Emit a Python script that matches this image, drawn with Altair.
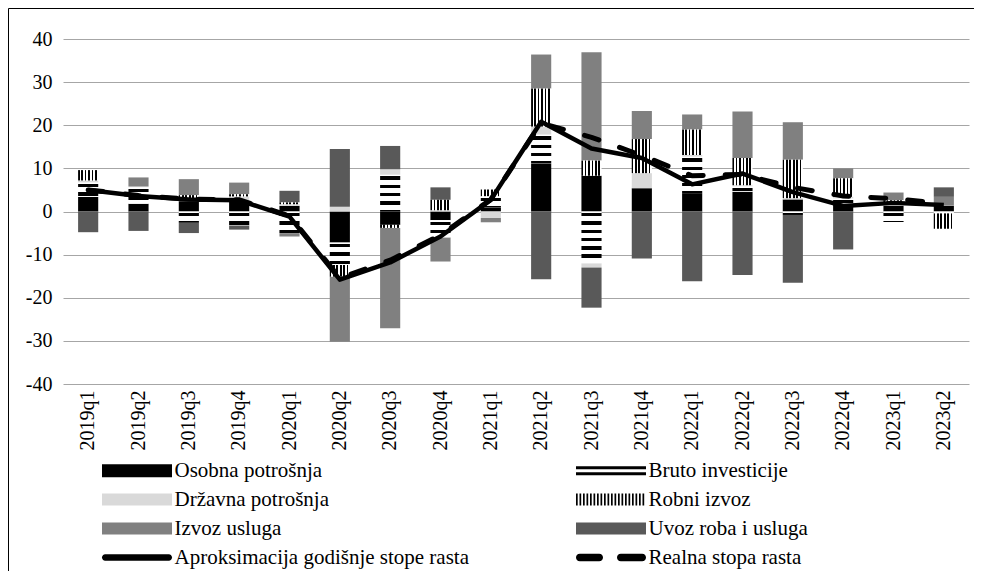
import altair as alt
import pandas as pd

# ---------------- data ----------------
quarters = ["2019q1", "2019q2", "2019q3", "2019q4", "2020q1", "2020q2", "2020q3", "2020q4",
            "2021q1", "2021q2", "2021q3", "2021q4", "2022q1", "2022q2", "2022q3", "2022q4",
            "2023q1", "2023q2"]

series_names = ["Osobna potrošnja", "Bruto investicije", "Državna potrošnja",
                "Robni izvoz", "Izvoz usluga", "Uvoz roba i usluga"]
line_names = ["Aproksimacija godišnje stope rasta", "Realna stopa rasta"]

osobna = [3.4, 1.8, 2.4, 2.3, 1.3, -7.2, -3.1, -2.0, 1.0, 11.2, 8.3, 5.4, 4.1, 4.6, 2.8, 1.8, 1.3, 1.4]
bruto = [3.3, 3.8, -2.6, -3.2, -5.0, -5.2, 8.5, -4.0, 2.5, 6.6, -12.0, 0.0, 8.6, 1.2, -0.8, 1.2, -2.5, -0.4]
drzavna = [0.5, 0.2, 0.5, 1.2, 0.4, 1.1, 1.3, 0.3, -1.5, 1.9, -1.0, 3.5, 0.4, 0.3, 0.3, 0.4, 0.4, 0.1]
robni = [2.4, 0.0, 0.9, 0.5, 0.4, -2.7, -0.7, 2.4, 1.6, 8.8, 3.5, 7.9, 5.9, 6.3, 8.9, 4.3, 0.9, -3.6]
izvoz = [0.0, 2.1, 3.7, 2.7, -0.8, -15.1, -23.3, -5.6, -1.0, 7.9, 25.1, 6.5, 3.5, 10.8, 8.7, 2.3, 1.8, 1.9]
uvoz = [-4.8, -4.5, -2.4, -1.0, 2.7, 13.4, 5.4, 2.9, 0.0, -15.7, -9.3, -10.9, -16.2, -14.7, -15.7, -8.8, 0.0, 2.2]

aproksimacija = [5.0, 3.6, 2.8, 2.6, -1.2, -15.8, -11.8, -5.8, 2.7, 20.8, 14.6, 12.4, 6.3, 8.8, 4.5, 1.3, 2.0, 1.5]
realna = [5.0, 3.7, 2.9, 2.7, -1.0, -15.4, -11.3, -5.5, 2.8, 20.5, 17.2, 13.0, 8.3, 8.6, 5.6, 3.6, 3.0, 1.8]

y_ticks = [-40, -30, -20, -10, 0, 10, 20, 30, 40]

# ---------------- styling constants ----------------
FONT = "'Liberation Serif', 'Times New Roman', 'DejaVu Serif', serif"
W, H = 966, 563
Y_TOP, Y_BOTTOM = 31, 376          # pixel range of the y scale inside the framed view
X_LEFT, X_RIGHT = 55, 961
PX_PER_UNIT = (Y_BOTTOM - Y_TOP) / 80.0

solid_colors = {
    "Osobna potrošnja": "#000000",
    "Državna potrošnja": "#d9d9d9",
    "Izvoz usluga": "#808080",
    "Uvoz roba i usluga": "#595959",
}

# ---------------- stacking (diverging, Excel style) ----------------
series_values = [osobna, bruto, drzavna, robni, izvoz, uvoz]
rows = []
for qi, q in enumerate(quarters):
    pos, neg = 0.0, 0.0
    for name, vals in zip(series_names, series_values):
        v = vals[qi]
        if abs(v) < 1e-9:
            continue
        if v > 0:
            y0, y1 = pos, pos + v
            pos += v
        else:
            y0, y1 = neg, neg + v
            neg += v
        rows.append({"q": q, "series": name, "value": v, "y0": y0, "y1": y1})
stack = pd.DataFrame(rows)

lines_df = pd.DataFrame({
    "q": quarters * 2,
    "series": [line_names[0]] * len(quarters) + [line_names[1]] * len(quarters),
    "value": aproksimacija + realna,
})

# ---------------- shared encodings ----------------
x_scale = alt.Scale(domain=quarters, range=[X_LEFT, X_RIGHT], paddingInner=0.6, paddingOuter=0.3)
y_scale = alt.Scale(domain=[-40, 40], range=[Y_BOTTOM, Y_TOP], nice=False, zero=False)

x_axis = alt.Axis(title=None, labelAngle=270, grid=False, domain=False, ticks=False,
                  labelFont=FONT, labelFontSize=20, labelColor="black",
                  labelPadding=6, offset=Y_BOTTOM - H)
y_axis = alt.Axis(title=None, values=y_ticks, grid=True, gridColor="#a6a6a6", gridWidth=1,
                  domain=False, ticks=False, labelFont=FONT, labelFontSize=20,
                  labelColor="black", labelPadding=3, offset=-47,
                  labelExpr="'' + datum.value")


def X():
    return alt.X("q:N", sort=quarters, scale=x_scale, axis=x_axis)


def Ybar():
    return alt.Y("y0:Q", scale=y_scale, axis=y_axis)


layers = []

# solid bars
for name, col in solid_colors.items():
    d = stack[stack["series"] == name]
    layers.append(alt.Chart(d).mark_bar(color=col).encode(x=X(), y=Ybar(), y2="y1:Q"))

# Robni izvoz: vertical stripes
vstops = []
n_v = 6
for i in range(n_v):
    a, b, c = i / n_v, (i + 0.5) / n_v, (i + 1) / n_v
    vstops += [alt.GradientStop(offset=a, color="#000000"), alt.GradientStop(offset=b, color="#000000"),
               alt.GradientStop(offset=b, color="#ffffff"), alt.GradientStop(offset=c, color="#ffffff")]
vgrad = alt.LinearGradient(gradient="linear", stops=vstops, x1=0, x2=1, y1=0, y2=0)
d = stack[stack["series"] == "Robni izvoz"]
layers.append(alt.Chart(d).mark_bar(color=vgrad).encode(x=X(), y=Ybar(), y2="y1:Q"))

# Bruto investicije: horizontal stripes (pattern scaled to each bar's height)
bruto_df = stack[stack["series"] == "Bruto investicije"]
for _, r in bruto_df.iterrows():
    h = abs(r["value"]) * PX_PER_UNIT
    stops = [alt.GradientStop(offset=0, color="#ffffff")]
    p = 1.5
    while p < h:
        b0 = p / h
        b1 = min(p + 3.3, h) / h
        w1 = min(p + 8.3, h) / h
        stops += [alt.GradientStop(offset=round(b0, 4), color="#ffffff"),
                  alt.GradientStop(offset=round(b0, 4), color="#000000"),
                  alt.GradientStop(offset=round(b1, 4), color="#000000"),
                  alt.GradientStop(offset=round(b1, 4), color="#ffffff"),
                  alt.GradientStop(offset=round(w1, 4), color="#ffffff")]
        p += 8.3
    stops.append(alt.GradientStop(offset=1, color="#ffffff"))
    grad = alt.LinearGradient(gradient="linear", stops=stops, x1=0, x2=0, y1=0, y2=1)
    d = bruto_df[bruto_df["q"] == r["q"]]
    layers.append(alt.Chart(d).mark_bar(color=grad).encode(x=X(), y=Ybar(), y2="y1:Q"))

# lines
realna_df = lines_df[lines_df["series"] == line_names[1]]
aprok_df = lines_df[lines_df["series"] == line_names[0]]
layers.append(alt.Chart(realna_df).mark_line(color="black", strokeWidth=5, strokeDash=[15, 22],
                                             strokeCap="round").encode(
    x=X(), y=alt.Y("value:Q", scale=y_scale, axis=y_axis)))
layers.append(alt.Chart(aprok_df).mark_line(color="black", strokeWidth=4.5, strokeJoin="round").encode(
    x=X(), y=alt.Y("value:Q", scale=y_scale, axis=y_axis)))


# ---------------- legend (via an empty point layer) ----------------
def rect(x0, x1, y0, y1):
    return f"M{x0},{y0}H{x1}V{y1}H{x0}Z"


def rounded(x0, x1, r):
    return (f"M{x0 + r},{-r}H{x1 - r}A{r},{r} 0 0 1 {x1 - r},{r}"
            f"H{x0 + r}A{r},{r} 0 0 1 {x0 + r},{-r}Z")


robni_path = "".join(rect(round(k * 0.35, 3), round(k * 0.35 + 0.17, 3), -0.6, 0.6) for k in range(20))
legend_names = series_names + line_names
legend_colors = ["#000000", "#000000", "#d9d9d9", "#000000", "#808080", "#595959", "#000000", "#000000"]
legend_shapes = [
    rect(0, 7, -0.65, 0.65),
    rect(0, 7, -0.45, -0.15) + rect(0, 7, 0.15, 0.45),
    rect(0, 7, -0.6, 0.6),
    robni_path,
    rect(0, 7, -0.6, 0.6),
    rect(0, 7, -0.6, 0.6),
    rounded(0, 7, 0.32),
    rounded(0, 2.7, 0.38) + rounded(4.1, 7, 0.38),
]

legend = alt.Legend(title=None, orient="none", legendX=94, legendY=452, columns=2,
                    direction="horizontal",
                    columnPadding=106, rowPadding=7, padding=0,
                    symbolSize=400, symbolOffset=-10.5, symbolStrokeWidth=0,
                    labelOffset=62, labelFont=FONT, labelFontSize=21, labelColor="black",
                    labelLimit=500)

legend_df = pd.DataFrame({"series": legend_names})
layers.append(
    alt.Chart(legend_df).mark_point(filled=True, opacity=1).encode(
        color=alt.Color("series:N", scale=alt.Scale(domain=legend_names, range=legend_colors), legend=legend),
        shape=alt.Shape("series:N", scale=alt.Scale(domain=legend_names, range=legend_shapes), legend=legend),
    ).transform_filter("false")
)

chart = (
    alt.layer(*layers)
    .properties(width=W, height=H, autosize="none", padding=0, background="white")
    .configure_view(stroke="black", strokeWidth=1)
)

chart.save("out.html", embed_options={"renderer": "svg", "actions": False})
